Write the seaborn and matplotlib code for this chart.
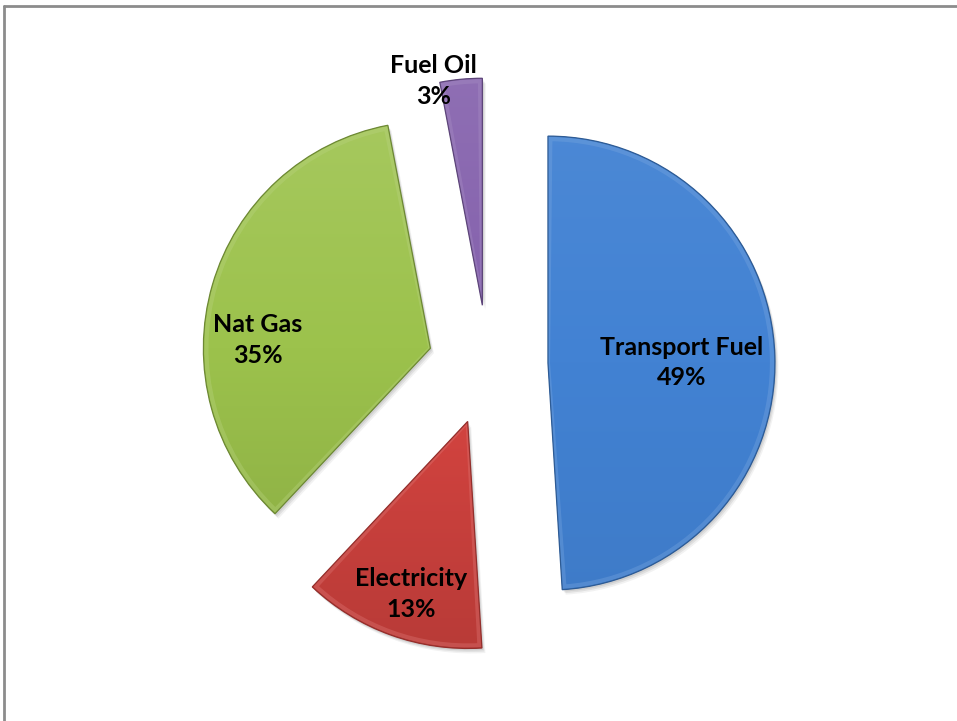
import numpy as np
import matplotlib
matplotlib.use("Agg")
import matplotlib.pyplot as plt
import matplotlib.colors as mcolors
from matplotlib.lines import Line2D
from matplotlib.patches import Wedge
import seaborn as sns

# Share of energy use by type
categories = ["Transport Fuel", "Electricity", "Nat Gas", "Fuel Oil"]
shares = [49, 13, 35, 3]
slice_colors = ["#4282d3", "#d2433f", "#9cc24c", "#8562ad"]

sns.set_theme(style="white")
plt.rcParams["font.family"] = ["Lato", "DejaVu Sans"]

W, H = 957, 721
fig = plt.figure(figsize=(W / 100, H / 100), dpi=100)
ax = fig.add_axes([0, 0, 1, 1])

# pie geometry in pixel units (y measured upward)
cx, cy = 488, H - 365
R = 227
pull = 60

wedges, _ = ax.pie(
    shares,
    colors=slice_colors,
    startangle=90,
    counterclock=False,
    radius=R,
    center=(cx, cy),
    explode=[pull] * len(shares),
    wedgeprops=dict(linewidth=0),
    frame=True,
)


def shade(color, f):
    r, g, b = mcolors.to_rgb(color)
    if f >= 0:
        return (r + (1 - r) * f, g + (1 - g) * f, b + (1 - b) * f)
    return (r * (1 + f), g * (1 + f), b * (1 + f))


# gradient strength per slice (blue is nearly flat)
grad_amt = [0.05, 0.12, 0.1, 0.08]

# soft shadow, gradient fill and darker rim for each slice
for w, col, g in zip(wedges, slice_colors, grad_amt):
    for k, a in [(5, 0.05), (3.5, 0.07), (2, 0.08)]:
        sh = Wedge((w.center[0] + k * 0.7, w.center[1] - k), w.r, w.theta1, w.theta2,
                   facecolor=(0, 0, 0, a), edgecolor="none", zorder=0.5)
        ax.add_patch(sh)
    w.set_zorder(1)
    x0, y0 = w.center[0] - w.r, w.center[1] - w.r
    top, bot = shade(col, g), shade(col, -g)
    grad = np.linspace(0, 1, 256)[:, None]
    cmap = mcolors.LinearSegmentedColormap.from_list("g", [bot, col, top])
    im = ax.imshow(grad, extent=(x0, x0 + 2 * w.r, y0, y0 + 2 * w.r),
                   origin="lower", cmap=cmap, aspect="auto", zorder=1.2,
                   interpolation="bilinear")
    im.set_clip_path(w)
    hl = Wedge(w.center, w.r - 3, w.theta1 + 0.6, w.theta2 - 0.6,
               facecolor="none", edgecolor=shade(col, 0.3), linewidth=3,
               alpha=0.35, zorder=1.4)
    hl.set_clip_path(w)
    ax.add_patch(hl)
    rim = Wedge(w.center, w.r, w.theta1, w.theta2, facecolor="none",
                edgecolor=shade(col, -0.3), linewidth=0.9, zorder=1.5)
    ax.add_patch(rim)

ax.set_xlim(0, W)
ax.set_ylim(0, H)
ax.set_aspect("equal")
ax.set_axis_off()

# label placement: fraction of radius and angular nudge from the slice bisector
label_spots = [(0.59, -1.5), (0.80, 1.7), (0.76, 13.5), (1.01, 6.9)]
for w, name, val, (frac, nudge) in zip(wedges, categories, shares, label_spots):
    ang = np.deg2rad((w.theta1 + w.theta2) / 2 + nudge)
    tx = w.center[0] + frac * R * np.cos(ang)
    ty = w.center[1] + frac * R * np.sin(ang)
    ax.text(tx, ty, f"{name}\n{val}%", ha="center", va="center",
            fontsize=18, fontweight="bold", color="black",
            linespacing=1.4, zorder=3)

# chart frame edges
fig.add_artist(Line2D([4 / W, 1], [1 - 6 / H, 1 - 6 / H], transform=fig.transFigure,
                      color="#8c8c8c", linewidth=2))
fig.add_artist(Line2D([4 / W, 4 / W], [0, 1 - 6 / H], transform=fig.transFigure,
                      color="#8c8c8c", linewidth=2))

fig.savefig("out.png", dpi=100, facecolor="white")
